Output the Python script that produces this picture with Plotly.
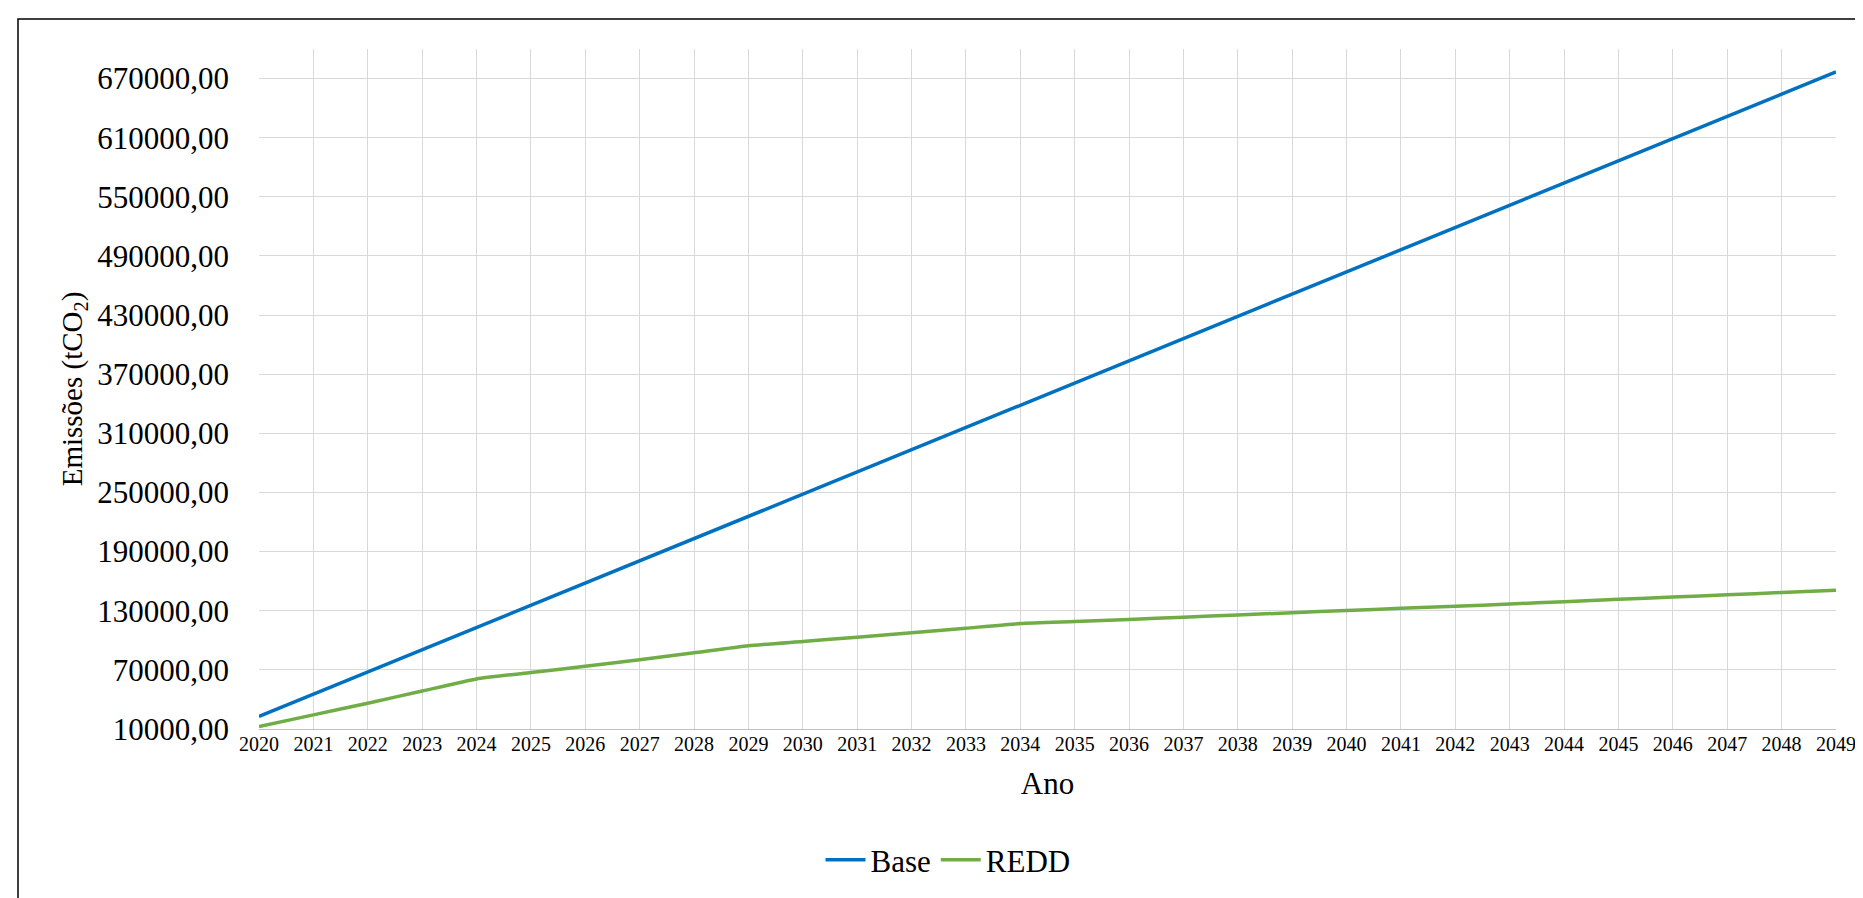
import plotly.graph_objects as go

years = list(range(2020, 2050))
base = [22800, 45350, 67900, 90450, 113000, 135550, 158100, 180650, 203200, 225750,
        248300, 270850, 293400, 315950, 338500, 361050, 383600, 406150, 428700, 451250,
        473800, 496350, 518900, 541450, 564000, 586550, 609100, 631650, 654200, 676750]
redd = [12400, 24300, 36200, 48500, 60800, 67300, 73600, 80300, 87300, 94500,
        98800, 103200, 107600, 112300, 117000, 119000, 121200, 123400, 125700, 128000,
        130200, 132400, 134600, 136800, 139200, 141600, 143900, 146200, 148500, 150700]
y_ticks = [10000, 70000, 130000, 190000, 250000, 310000, 370000, 430000, 490000, 550000, 610000, 670000]
y_tick_text = ["10000,00", "70000,00", "130000,00", "190000,00", "250000,00", "310000,00",
               "370000,00", "430000,00", "490000,00", "550000,00", "610000,00", "670000,00"]

FONT = "Liberation Serif, Times New Roman, serif"

fig = go.Figure()
fig.add_trace(go.Scatter(x=years, y=base, mode="lines", name="Base",
                         line=dict(color="#0070C0", width=3.5)))
fig.add_trace(go.Scatter(x=years, y=redd, mode="lines", name="REDD",
                         line=dict(color="#70AD47", width=3.5, shape="spline", smoothing=0.5)))

L, R, T, B = 251, 35, 41, 177
W, H = 1863, 898
pw, ph = W - L - R, H - T - B

def px_x(x):
    return (x - L) / pw

def px_y(y):
    return (H - B - y) / ph

fig.update_layout(
    width=W, height=H,
    margin=dict(l=L, r=R, t=T, b=B),
    paper_bgcolor="white", plot_bgcolor="white",
    font=dict(family=FONT, color="black"),
    showlegend=True,
    legend=dict(orientation="h", x=px_x(940), xanchor="center", y=px_y(852), yanchor="middle",
                font=dict(size=31, family=FONT), itemwidth=40, tracegroupgap=0),
    xaxis=dict(
        range=[2020, 2049], tickmode="array", tickvals=years, ticktext=[str(y) for y in years],
        showgrid=True, gridcolor="#D9D9D9", gridwidth=1.3,
        showline=True, linecolor="#BFBFBF", linewidth=1.3,
        tickfont=dict(size=20, family=FONT), ticks="", ticklabelstandoff=-3,
        title=dict(text="Ano", font=dict(size=31, family=FONT), standoff=18),
        zeroline=False, fixedrange=True,
    ),
    yaxis=dict(
        range=[10000, 700000], tickmode="array", tickvals=y_ticks, ticktext=y_tick_text,
        showgrid=True, gridcolor="#D9D9D9", gridwidth=1.3,
        showline=False,
        tickfont=dict(size=31, family=FONT), ticks="", ticklabelstandoff=29,
        title=dict(text="Emissões (tCO<sub>2</sub>)", font=dict(size=29, family=FONT), standoff=6),
        zeroline=False, fixedrange=True,
    ),
    shapes=[dict(type="rect", xref="paper", yref="paper",
                 x0=px_x(10), x1=px_x(1860), y0=px_y(896), y1=px_y(11),
                 line=dict(color="black", width=1.5), layer="above")],
)

fig.write_html("out.html")
